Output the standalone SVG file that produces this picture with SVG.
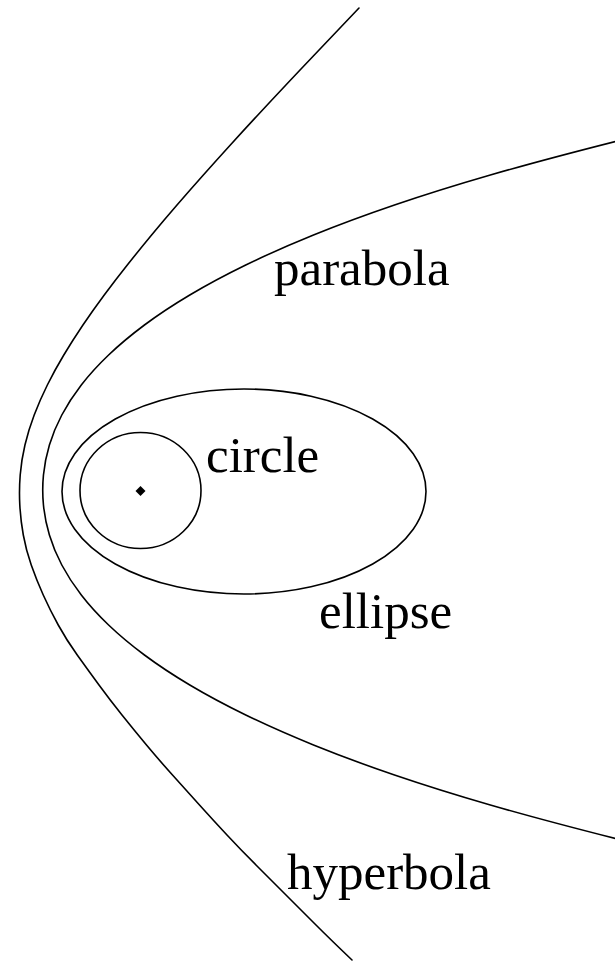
<svg xmlns="http://www.w3.org/2000/svg" width="615" height="963" viewBox="0 0 615 963">
  <style>
    .curve { fill: none; stroke: #000; stroke-width: 1.6; stroke-linejoin: round; stroke-linecap: round; }
    .label { font-family: "Liberation Serif", "Times New Roman", serif; font-size: 51px; fill: #000; }
  </style>
  <rect x="0" y="0" width="615" height="963" fill="#fff"/>
  <g id="hyperbola">
    <path class="curve" d="M359,8 Q328.6,40 314.3,55 Q300,70 285.9,85 Q271.8,100 257.9,115 Q244,130 230.35,145 Q216.7,160 203.35,175 Q190,190 177,205 Q164,220 151.6,235 Q139.2,250 127.3,265 Q115.4,280 104.25,295 Q93.1,310 82.95,325 Q72.8,340 63.8,355 Q54.8,370 47.35,385 Q39.9,400 34.2,415 Q28.5,430 24.95,445 Q21.4,460 20.2,475 Q19,490 19.8,505 Q20.6,520 23.3,535 Q26,550 31.25,565 Q36.5,580 43.25,595 Q50,610 58.25,625 Q66.5,640 77.25,655 Q88,670 99,685 Q110,700 122,715 Q134,730 146.5,745 Q159,760 172.5,775 Q186,790 199.5,805 Q213,820 227,835 Q241,850 256,865 Q271,880 286,895 Q301,910 316,925 Q331,940 352,960"/>
    <text class="label" x="287" y="889">hyperbola</text>
  </g>
  <g id="parabola">
    <path class="curve" d="M621.2,140 Q542.2,160 490.35,175 Q438.5,190 394.5,205 Q350.5,220 313.5,235 Q276.5,250 245.75,265 Q215,280 189.8,295 Q164.6,310 144.45,325 Q124.3,340 108.6,355 Q92.9,370 81.3,385 Q69.7,400 61.8,415 Q53.9,430 49.4,445 Q44.9,460 43.45,475 Q42,490 43.45,505 Q44.9,520 49.4,535 Q53.9,550 61.8,565 Q69.7,580 81.3,595 Q92.9,610 108.6,625 Q124.3,640 144.45,655 Q164.6,670 189.8,685 Q215,700 245.75,715 Q276.5,730 313.5,745 Q350.5,760 394.5,775 Q438.5,790 490.35,805 Q542.2,820 621.2,840"/>
    <text class="label" x="274" y="285">parabola</text>
  </g>
  <g id="ellipse">
    <ellipse class="curve" cx="244" cy="491.5" rx="182" ry="102.5"/>
    <text class="label" x="319" y="628">ellipse</text>
  </g>
  <g id="circle">
    <ellipse class="curve" cx="140.5" cy="490.5" rx="60.5" ry="58"/>
    <text class="label" x="206" y="472">circle</text>
  </g>
  <g id="focus">
    <polygon points="140.5,486 145.5,491 140.5,496 135.5,491" fill="#000"/>
  </g>
</svg>
